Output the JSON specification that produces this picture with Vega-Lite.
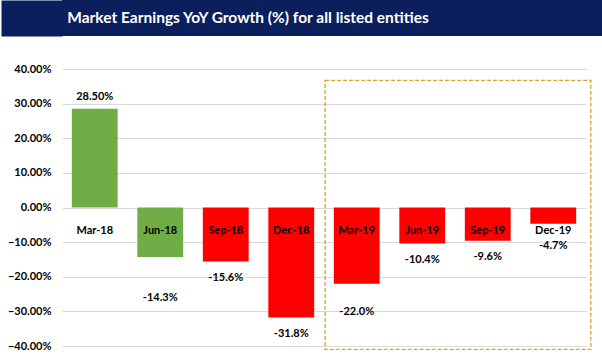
{
  "$schema": "https://vega.github.io/schema/vega-lite/v6.json",
  "padding": {"left": -17, "top": 0, "right": 0, "bottom": 0},
  "background": "white",
  "config": {"view": {"stroke": null}, "font": "Lato"},
  "spacing": 27,
  "datasets": {
    "growth": [
      {"quarter": "Mar-18", "value": 0.285, "label": "28.50%"},
      {"quarter": "Jun-18", "value": -0.143, "label": "-14.3%"},
      {"quarter": "Sep-18", "value": -0.156, "label": "-15.6%"},
      {"quarter": "Dec-18", "value": -0.318, "label": "-31.8%"},
      {"quarter": "Mar-19", "value": -0.22, "label": "-22.0%"},
      {"quarter": "Jun-19", "value": -0.104, "label": "-10.4%"},
      {"quarter": "Sep-19", "value": -0.096, "label": "-9.6%"},
      {"quarter": "Dec-19", "value": -0.047, "label": "-4.7%"}
    ],
    "heading": [{"t": "Market Earnings YoY Growth (%) for all listed entities"}],
    "box": [{"quarter": "Mar-19", "end": "Dec-19", "top": 0.367, "bottom": -0.41}]
  },
  "vconcat": [
    {
      "width": 540,
      "height": 36,
      "data": {"name": "heading"},
      "view": {"fill": "#0B1F5C", "stroke": null},
      "mark": {"type": "text", "color": "white", "fontWeight": "bold", "fontSize": 15.5, "dx": -84},
      "encoding": {
        "x": {"field": "t", "type": "nominal", "axis": null},
        "y": {"field": "t", "type": "nominal",
              "axis": {"labels": false, "domain": false, "ticks": true, "tickSize": 61, "tickWidth": 36,
                       "tickColor": "#0B1F5C", "tickCap": "butt", "title": null, "minExtent": 61, "maxExtent": 61,
                       "labelPadding": 0, "offset": 0}},
        "text": {"field": "t"}
      }
    },
    {
      "width": 524,
      "height": 277,
      "layer": [
        {
          "data": {"name": "growth"},
          "mark": {"type": "bar"},
          "encoding": {
            "x": {"field": "quarter", "type": "nominal", "sort": null, "axis": null,
                  "scale": {"paddingInner": 0.3, "paddingOuter": 0.15}},
            "y": {"field": "value", "type": "quantitative",
                  "scale": {"domain": [-0.4, 0.4], "nice": false},
                  "axis": {"format": ".2%", "values": [-0.4, -0.3, -0.2, -0.1, 0, 0.1, 0.2, 0.3, 0.4],
                           "labelOverlap": false,
                           "grid": true, "gridColor": "#D9D9D9", "domain": false, "ticks": false,
                           "labelFontWeight": "bold", "labelFontSize": 11, "labelColor": "#000000",
                           "labelPadding": 11, "title": null, "minExtent": 61, "maxExtent": 61}},
            "color": {"field": "quarter", "type": "nominal", "legend": null,
                      "scale": {"domain": ["Mar-18", "Jun-18", "Sep-18", "Dec-18", "Mar-19", "Jun-19", "Sep-19", "Dec-19"],
                                "range": ["#70AD47", "#70AD47", "#FF0000", "#FF0000", "#FF0000", "#FF0000", "#FF0000", "#FF0000"]}}
          }
        },
        {
          "data": {"name": "growth"},
          "transform": [{"filter": "datum.value >= 0"}],
          "mark": {"type": "text", "fontWeight": "bold", "fontSize": 11, "color": "#000000", "dy": -12},
          "encoding": {
            "x": {"field": "quarter", "type": "nominal", "sort": null, "axis": null},
            "y": {"field": "value", "type": "quantitative",
                  "axis": {"format": ".2%", "values": [-0.4, -0.3, -0.2, -0.1, 0, 0.1, 0.2, 0.3, 0.4],
                           "labelOverlap": false,
                           "grid": true, "gridColor": "#D9D9D9", "domain": false, "ticks": false,
                           "labelFontWeight": "bold", "labelFontSize": 11, "labelColor": "#000000",
                           "labelPadding": 11, "title": null, "minExtent": 61, "maxExtent": 61}},
            "text": {"field": "label"}
          }
        },
        {
          "data": {"name": "growth"},
          "transform": [{"filter": "datum.value <= -0.06 && datum.quarter != 'Jun-18' && datum.quarter != 'Mar-19'"}],
          "mark": {"type": "text", "fontWeight": "bold", "fontSize": 11, "color": "#000000", "dy": 16},
          "encoding": {
            "x": {"field": "quarter", "type": "nominal", "sort": null, "axis": null},
            "y": {"field": "value", "type": "quantitative",
                  "axis": {"format": ".2%", "values": [-0.4, -0.3, -0.2, -0.1, 0, 0.1, 0.2, 0.3, 0.4],
                           "labelOverlap": false,
                           "grid": true, "gridColor": "#D9D9D9", "domain": false, "ticks": false,
                           "labelFontWeight": "bold", "labelFontSize": 11, "labelColor": "#000000",
                           "labelPadding": 11, "title": null, "minExtent": 61, "maxExtent": 61}},
            "text": {"field": "label"}
          }
        },
        {
          "data": {"name": "growth"},
          "transform": [{"filter": "datum.quarter == 'Jun-18'"}],
          "mark": {"type": "text", "fontWeight": "bold", "fontSize": 11, "color": "#000000", "dy": 41},
          "encoding": {
            "x": {"field": "quarter", "type": "nominal", "sort": null, "axis": null},
            "y": {"field": "value", "type": "quantitative",
                  "axis": {"format": ".2%", "values": [-0.4, -0.3, -0.2, -0.1, 0, 0.1, 0.2, 0.3, 0.4],
                           "labelOverlap": false,
                           "grid": true, "gridColor": "#D9D9D9", "domain": false, "ticks": false,
                           "labelFontWeight": "bold", "labelFontSize": 11, "labelColor": "#000000",
                           "labelPadding": 11, "title": null, "minExtent": 61, "maxExtent": 61}},
            "text": {"field": "label"}
          }
        },
        {
          "data": {"name": "growth"},
          "transform": [{"filter": "datum.quarter == 'Mar-19'"}],
          "mark": {"type": "text", "fontWeight": "bold", "fontSize": 11, "color": "#000000", "dy": 28},
          "encoding": {
            "x": {"field": "quarter", "type": "nominal", "sort": null, "axis": null},
            "y": {"field": "value", "type": "quantitative",
                  "axis": {"format": ".2%", "values": [-0.4, -0.3, -0.2, -0.1, 0, 0.1, 0.2, 0.3, 0.4],
                           "labelOverlap": false,
                           "grid": true, "gridColor": "#D9D9D9", "domain": false, "ticks": false,
                           "labelFontWeight": "bold", "labelFontSize": 11, "labelColor": "#000000",
                           "labelPadding": 11, "title": null, "minExtent": 61, "maxExtent": 61}},
            "text": {"field": "label"}
          }
        },
        {
          "data": {"name": "growth"},
          "transform": [{"filter": "datum.value < 0 && datum.value > -0.06"}],
          "mark": {"type": "text", "fontWeight": "bold", "fontSize": 11, "color": "#000000", "dy": 22},
          "encoding": {
            "x": {"field": "quarter", "type": "nominal", "sort": null, "axis": null},
            "y": {"field": "value", "type": "quantitative",
                  "axis": {"format": ".2%", "values": [-0.4, -0.3, -0.2, -0.1, 0, 0.1, 0.2, 0.3, 0.4],
                           "labelOverlap": false,
                           "grid": true, "gridColor": "#D9D9D9", "domain": false, "ticks": false,
                           "labelFontWeight": "bold", "labelFontSize": 11, "labelColor": "#000000",
                           "labelPadding": 11, "title": null, "minExtent": 61, "maxExtent": 61}},
            "text": {"field": "label"}
          }
        },
        {
          "data": {"name": "growth"},
          "mark": {"type": "text", "fontWeight": "bold", "fontSize": 11, "color": "#000000", "dy": 23},
          "encoding": {
            "x": {"field": "quarter", "type": "nominal", "sort": null, "axis": null},
            "y": {"datum": 0, "type": "quantitative",
                  "axis": {"format": ".2%", "values": [-0.4, -0.3, -0.2, -0.1, 0, 0.1, 0.2, 0.3, 0.4],
                           "labelOverlap": false,
                           "grid": true, "gridColor": "#D9D9D9", "domain": false, "ticks": false,
                           "labelFontWeight": "bold", "labelFontSize": 11, "labelColor": "#000000",
                           "labelPadding": 11, "title": null, "minExtent": 61, "maxExtent": 61}},
            "text": {"field": "quarter"}
          }
        },
        {
          "data": {"name": "box"},
          "mark": {"type": "rect", "fill": null, "fillOpacity": 0, "stroke": "#D4A42A", "strokeWidth": 1.3, "strokeDash": [4, 2]},
          "encoding": {
            "x": {"field": "quarter", "type": "nominal", "sort": null, "bandPosition": -0.19, "axis": null},
            "x2": {"field": "end", "bandPosition": 1.32},
            "y": {"field": "top", "type": "quantitative",
                  "axis": {"format": ".2%", "values": [-0.4, -0.3, -0.2, -0.1, 0, 0.1, 0.2, 0.3, 0.4],
                           "labelOverlap": false,
                           "grid": true, "gridColor": "#D9D9D9", "domain": false, "ticks": false,
                           "labelFontWeight": "bold", "labelFontSize": 11, "labelColor": "#000000",
                           "labelPadding": 11, "title": null, "minExtent": 61, "maxExtent": 61}},
            "y2": {"field": "bottom"}
          }
        }
      ]
    }
  ]
}
